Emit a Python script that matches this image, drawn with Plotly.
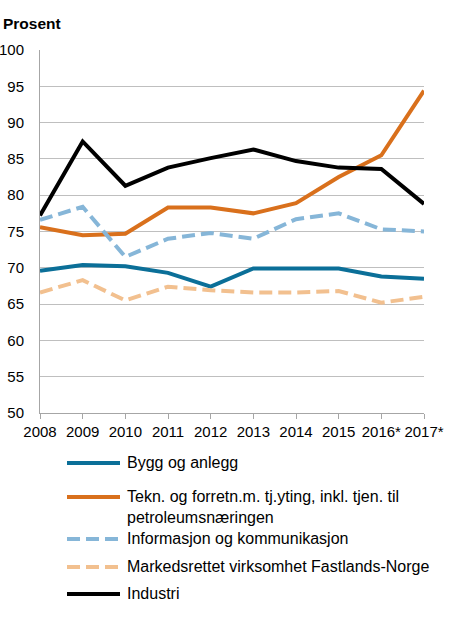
import plotly.graph_objects as go

# Years on the x axis (* = preliminary)
years = ['2008', '2009', '2010', '2011', '2012', '2013', '2014', '2015', '2016*', '2017*']

# Share in percent
bygg = [69.6, 70.4, 70.2, 69.3, 67.4, 69.9, 69.9, 69.9, 68.8, 68.5]
tekn = [75.6, 74.5, 74.7, 78.3, 78.3, 77.5, 78.9, 82.5, 85.5, 94.4]
info = [76.6, 78.4, 71.5, 74.0, 74.8, 74.0, 76.7, 77.5, 75.3, 75.0]
marked = [66.6, 68.3, 65.5, 67.4, 66.9, 66.6, 66.6, 66.8, 65.2, 66.0]
industri = [77.2, 87.4, 81.3, 83.8, 85.1, 86.3, 84.7, 83.8, 83.6, 78.8]

series = [
    ('Bygg og anlegg', bygg, '#0b6f98', 'solid'),
    ('Tekn. og forretn.m. tj.yting, inkl. tjen. til<br>petroleumsnæringen', tekn, '#d9701c', 'solid'),
    ('Informasjon og kommunikasjon', info, '#86b6d8', '13px,6px'),
    ('Markedsrettet virksomhet Fastlands-Norge', marked, '#f2c08f', '13px,6px'),
    ('Industri', industri, '#000000', 'solid'),
]

# figure geometry, plot area in pixels: x 40..424, y 50..413
W, H = 450, 619
L, T = 40, 50
R, B = W - 424, H - 413
pw, ph = W - L - R, H - T - B


def px_x(px):
    return (px - L) / pw


def px_y(py):
    return (H - B - py) / ph


x = list(range(len(years)))

fig = go.Figure()
for name, vals, color, dash in series:
    fig.add_trace(go.Scatter(
        x=x, y=vals, name=name.replace('<br>', ' '), mode='lines',
        line=dict(color=color, width=4, dash=dash),
        cliponaxis=False, showlegend=False,
    ))

# hand-drawn legend below the plot (row centres in pixels)
legend_rows = [463, 497, 539, 567, 594]
shapes = []
annotations = []
for (name, vals, color, dash), ry in zip(series, legend_rows):
    shapes.append(dict(
        type='line', xref='paper', yref='paper',
        x0=px_x(67), x1=px_x(120), y0=px_y(ry), y1=px_y(ry),
        line=dict(color=color, width=4, dash=dash),
    ))
    annotations.append(dict(
        text=name, xref='paper', yref='paper',
        x=px_x(125), y=px_y(ry - 11), xanchor='left', yanchor='top',
        align='left', showarrow=False, font=dict(size=16),
    ))

annotations.append(dict(
    text='<b>Prosent</b>', xref='paper', yref='paper',
    x=px_x(1), y=px_y(23), xanchor='left', yanchor='middle',
    showarrow=False, font=dict(size=15.5),
))

fig.update_layout(
    width=W, height=H,
    margin=dict(l=L, r=R, t=T, b=B),
    paper_bgcolor='white', plot_bgcolor='white',
    font=dict(family='Liberation Sans, Arial, sans-serif', size=15, color='#000000'),
    showlegend=False,
    shapes=shapes,
    annotations=annotations,
)

fig.update_xaxes(
    tickmode='array', tickvals=x, ticktext=years,
    range=[0, len(years) - 1], automargin=False,
    showgrid=False, zeroline=False,
    showline=True, linecolor='#a6a6a6', linewidth=1,
    ticks='outside', ticklen=5, tickcolor='#a6a6a6',
)
fig.update_yaxes(
    range=[50, 100], dtick=5, automargin=False,
    showgrid=True, gridcolor='#bfbfbf', gridwidth=1,
    zeroline=False,
    showline=True, linecolor='#a6a6a6', linewidth=1,
    ticks='', ticklabelstandoff=12,
)

# drop the browser's default body margin so the figure sits in the corner
fig.write_html('out.html', config={'displayModeBar': False},
               post_script="document.body.style.margin = '0';")
